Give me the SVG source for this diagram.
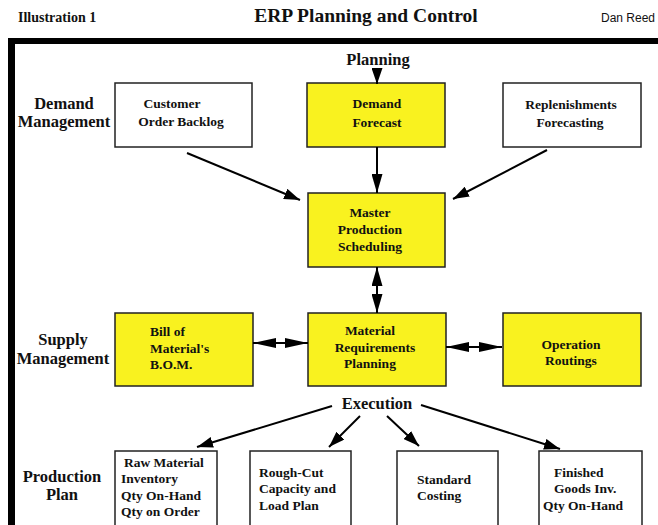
<svg xmlns="http://www.w3.org/2000/svg" width="658" height="525" viewBox="0 0 658 525">
<style>
.bg{fill:#fff}
.frame{fill:#000}
.box{stroke:#222;stroke-width:1.5}
.y{fill:#F9F21F}
.w{fill:#fff}
.t{font-family:"Liberation Serif","Times New Roman",serif;font-weight:bold;font-size:13.5px;fill:#111}
.lbl{font-family:"Liberation Serif","Times New Roman",serif;font-weight:bold;font-size:16.5px;fill:#111}
.c{text-anchor:middle}
.ar{stroke:#000;stroke-width:2;fill:none}
</style>
<defs>
<marker id="ah" viewBox="0 0 16 11" refX="16" refY="5.5" markerWidth="16" markerHeight="11" markerUnits="userSpaceOnUse" orient="auto-start-reverse"><path d="M0,0 L16,5.5 L0,11 z" fill="#000"/></marker>
<marker id="ahl" viewBox="0 0 23 10" refX="23" refY="5" markerWidth="23" markerHeight="10" markerUnits="userSpaceOnUse" orient="auto-start-reverse"><path d="M0,0 L23,5 L0,10 z" fill="#000"/></marker>
<marker id="ahv" viewBox="0 0 19 11" refX="19" refY="5.5" markerWidth="19" markerHeight="11" markerUnits="userSpaceOnUse" orient="auto-start-reverse"><path d="M0,0 L19,5.5 L0,11 z" fill="#000"/></marker>
</defs>
<rect class="bg" x="0" y="0" width="658" height="525"/>
<g id="header">
<text x="18" y="22" font-family="Liberation Serif,serif" font-weight="bold" font-size="14" fill="#111">Illustration 1</text>
<text x="366" y="22" text-anchor="middle" font-family="Liberation Serif,serif" font-weight="bold" font-size="19.5" fill="#111">ERP Planning and Control</text>
<text x="601" y="22" font-family="Liberation Sans,Arial,sans-serif" font-size="12" fill="#111">Dan Reed</text>
</g>
<g id="frame">
<rect class="frame" x="8" y="38" width="650" height="6"/>
<rect class="frame" x="8" y="38" width="7" height="487"/>
</g>
<g id="labels">
<text class="lbl c" x="378" y="65">Planning</text>
<text class="lbl c" x="64" y="109">Demand</text>
<text class="lbl c" x="64" y="127">Management</text>
<text class="lbl c" x="63" y="345" font-size="16">Supply</text>
<text class="lbl c" x="63" y="363.5" font-size="16">Management</text>
<text class="lbl c" x="377" y="409">Execution</text>
<text class="lbl c" x="62" y="482">Production</text>
<text class="lbl c" x="62" y="500">Plan</text>
</g>
<g id="customer-order-backlog">
<rect class="box w" x="115" y="83" width="137" height="64"/>
<text class="t c" x="172" y="108">Customer</text>
<text class="t c" x="181" y="126">Order Backlog</text>
</g>
<g id="demand-forecast">
<rect class="box y" x="307" y="83" width="138" height="64"/>
<text class="t c" x="377" y="108">Demand</text>
<text class="t c" x="377" y="127">Forecast</text>
</g>
<g id="replenishments-forecasting">
<rect class="box w" x="503" y="83" width="138" height="64"/>
<text class="t c" x="571" y="109">Replenishments</text>
<text class="t c" x="570" y="127">Forecasting</text>
</g>
<g id="master-production-scheduling">
<rect class="box y" x="308" y="193" width="137" height="74"/>
<text class="t c" x="370" y="217">Master</text>
<text class="t c" x="370" y="234">Production</text>
<text class="t c" x="370" y="251">Scheduling</text>
</g>
<g id="bill-of-materials">
<rect class="box y" x="115" y="313" width="138" height="73"/>
<text class="t" x="150" y="336">Bill of</text>
<text class="t" x="150" y="353">Material's</text>
<text class="t" x="150" y="369">B.O.M.</text>
</g>
<g id="material-requirements-planning">
<rect class="box y" x="308" y="313" width="138" height="73"/>
<text class="t c" x="370" y="335">Material</text>
<text class="t c" x="375" y="352">Requirements</text>
<text class="t c" x="370" y="368">Planning</text>
</g>
<g id="operation-routings">
<rect class="box y" x="503" y="313" width="138" height="73"/>
<text class="t c" x="571" y="349">Operation</text>
<text class="t c" x="571" y="365">Routings</text>
</g>
<g id="raw-material-inventory">
<rect class="box w" x="115" y="451" width="102" height="100"/>
<text class="t" x="124" y="467">Raw Material</text>
<text class="t" x="121" y="483">Inventory</text>
<text class="t" x="121" y="500">Qty On-Hand</text>
<text class="t" x="121" y="516">Qty on Order</text>
</g>
<g id="rough-cut-capacity">
<rect class="box w" x="250" y="451" width="101" height="100"/>
<text class="t" x="259" y="477">Rough-Cut</text>
<text class="t" x="259" y="493">Capacity and</text>
<text class="t" x="259" y="510">Load Plan</text>
</g>
<g id="standard-costing">
<rect class="box w" x="397" y="451" width="101" height="100"/>
<text class="t" x="417" y="484">Standard</text>
<text class="t" x="417" y="500">Costing</text>
</g>
<g id="finished-goods">
<rect class="box w" x="539" y="451" width="103" height="100"/>
<text class="t" x="554" y="477">Finished</text>
<text class="t" x="554" y="493">Goods Inv.</text>
<text class="t" x="543" y="510">Qty On-Hand</text>
</g>
<g id="connectors">
<line class="ar" x1="377" y1="70" x2="377" y2="84" marker-end="url(#ah)"/>
<line class="ar" x1="377" y1="147" x2="377" y2="193" marker-end="url(#ahv)"/>
<line class="ar" x1="187" y1="153" x2="300" y2="200" marker-end="url(#ah)"/>
<line class="ar" x1="547" y1="150" x2="453" y2="199" marker-end="url(#ah)"/>
<line class="ar" x1="377" y1="267" x2="377" y2="313" marker-start="url(#ahv)" marker-end="url(#ahv)"/>
<line class="ar" x1="253" y1="343" x2="308" y2="343" marker-start="url(#ahl)" marker-end="url(#ahl)"/>
<line class="ar" x1="446" y1="347" x2="502" y2="347" marker-start="url(#ahl)" marker-end="url(#ahl)"/>
<line class="ar" x1="332" y1="406" x2="197" y2="447" marker-end="url(#ah)"/>
<line class="ar" x1="360" y1="416" x2="329" y2="447" marker-end="url(#ah)"/>
<line class="ar" x1="387" y1="416" x2="419" y2="446" marker-end="url(#ah)"/>
<line class="ar" x1="421" y1="405" x2="560" y2="449" marker-end="url(#ah)"/>
</g>
</svg>
